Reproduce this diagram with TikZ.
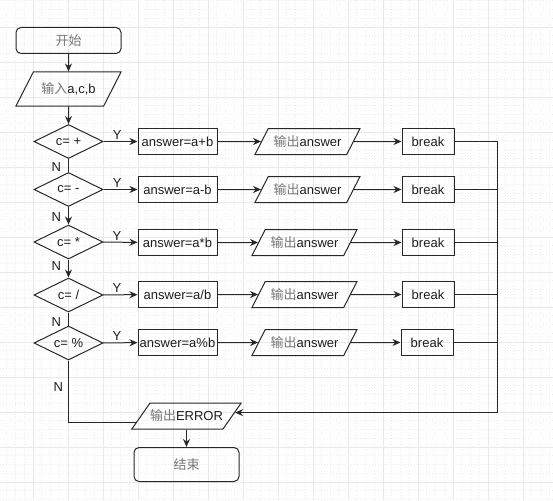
\documentclass[tikz,border=0pt]{standalone}
\usepackage{fontspec}
\setmainfont{Liberation Sans}
\newfontfamily\cjk{Noto Sans CJK SC}
\usetikzlibrary{shapes.geometric,arrows.meta}
\definecolor{cjkgray}{RGB}{118,118,118}
\definecolor{inkgray}{RGB}{30,30,30}
\definecolor{edgegray}{RGB}{40,40,40}
\definecolor{gridmajor}{RGB}{233,233,233}
\definecolor{gridminor}{RGB}{236,236,236}
\newcommand\zh[1]{{\cjk\color{cjkgray}#1}}
\begin{document}
\begin{tikzpicture}[x=1pt,y=-1pt,
    every node/.style={font=\fontsize{13}{15}\selectfont, text=inkgray, inner sep=0pt},
    box/.style={draw=edgegray, line width=1pt, minimum height=26pt},
    term/.style={box, rounded corners=5pt, minimum width=105pt},
    io/.style={draw=edgegray, line width=1pt, trapezium, trapezium left angle=63, trapezium right angle=117,
        trapezium stretches body, minimum width=105pt, text height=11.2pt, text depth=1.8pt, inner ysep=6.5pt},
    ask/.style={draw=edgegray, line width=1pt, diamond, aspect=2, minimum width=69pt, minimum height=34pt},
    link/.style={draw=edgegray, line width=1pt},
    flow/.style={link, -{Stealth[length=8pt,width=7pt]}},
    majorgrid/.style={draw=gridmajor, line width=0.8pt},
    minorgrid/.style={draw=gridminor, line width=0.6pt, dash pattern=on 1pt off 2pt}]
    \useasboundingbox (0,0) rectangle (553,500);
    \fill[white] (0,0) rectangle (553,500);
    \foreach \gx in {6.75,15.5,...,553} \draw[minorgrid] (\gx,0) -- (\gx,500);
    \foreach \gy in {0.75,9.5,...,500} \draw[minorgrid] (0,\gy) -- (553,\gy);
    \foreach \gx in {33,68,...,523} \draw[majorgrid] (\gx,0) -- (\gx,500);
    \foreach \gy in {27,62,...,482} \draw[majorgrid] (0,\gy) -- (553,\gy);

    \node[term] (start) at (68.5,40.5) {\zh{开始}};
    \node[io, inner ysep=10.5pt] (input) at (68.5,89) {\zh{输入}a,c,b};
    \node[ask] (c1) at (68.5,141.5) {c= +};
    \node[ask] (c2) at (68.5,189.5) {c= -};
    \node[ask] (c3) at (68.5,242) {c= *};
    \node[ask] (c4) at (68.5,295) {c= /};
    \node[ask] (c5) at (68.5,343) {c= \%};
    \node[box, minimum width=79pt] (a1) at (177.5,141.5) {answer=a+b};
    \node[box, minimum width=79pt] (a2) at (177.5,189.5) {answer=a-b};
    \node[box, minimum width=79pt] (a3) at (177.5,242.5) {answer=a*b};
    \node[box, minimum width=79pt] (a4) at (177.5,294.5) {answer=a/b};
    \node[box, minimum width=79pt] (a5) at (177.5,342.5) {answer=a\%b};
    \node[io] (o1) at (307.5,141.5) {\zh{输出}answer};
    \node[io] (o2) at (307.5,189.5) {\zh{输出}answer};
    \node[io] (o3) at (304.5,242.5) {\zh{输出}answer};
    \node[io] (o4) at (304.5,294.5) {\zh{输出}answer};
    \node[io] (o5) at (304.5,342.5) {\zh{输出}answer};
    \node[box, minimum width=52pt] (b1) at (428,141.5) {break};
    \node[box, minimum width=52pt] (b2) at (428,189.5) {break};
    \node[box, minimum width=52pt] (b3) at (428,242.5) {break};
    \node[box, minimum width=52pt] (b4) at (428,294.5) {break};
    \node[box, minimum width=52pt] (b5) at (427,342.5) {break};
    \node[io, trapezium left angle=55, trapezium right angle=125, minimum width=97pt] (err) at (186.5,416) {\zh{输出}ERROR};
    \node[term, minimum height=34pt] (stop) at (186.5,464.5) {\zh{结束}};
    \coordinate (back) at (497,0);
    \coordinate (nturn) at (68.5,0);

    \draw[flow] (start) -- (input);
    \draw[flow] (input) -- (c1);
    \draw[link] (c1) -- node[pos=0.6, left=7pt] {N} (c2);
    \draw[flow] (c2) -- node[pos=0.6, left=7pt] {N} (c3);
    \draw[flow] (c3) -- node[pos=0.35, left=7pt] {N} (c4);
    \draw[link] (c4) -- node[pos=0.7, left=7pt] {N} (c5);
    \draw[flow] (c1) -- node[pos=0.4, above=1.5pt] {Y} (a1);
    \draw[flow] (c2) -- node[pos=0.4, above=1.5pt] {Y} (a2);
    \draw[flow] (c3) -- node[pos=0.4, above=1.5pt] {Y} (a3);
    \draw[flow] (c4) -- node[pos=0.4, above=1.5pt] {Y} (a4);
    \draw[flow] (c5) -- node[pos=0.4, above=1.5pt] {Y} (a5);
    \draw[flow] (a1) -- (o1);
    \draw[flow] (a2) -- (o2);
    \draw[flow] (a3) -- (o3);
    \draw[flow] (a4) -- (o4);
    \draw[flow] (a5) -- (o5);
    \draw[flow] (o1) -- (b1);
    \draw[flow] (o2) -- (b2);
    \draw[flow] (o3) -- (b3);
    \draw[flow] (o4) -- (b4);
    \draw[flow] (o5) -- (b5);
    \draw[link] (b1.east) -- (b1.east -| back) -- (err.4 -| back);
    \draw[link] (b2.east) -- (b2.east -| back);
    \draw[link] (b3.east) -- (b3.east -| back);
    \draw[link] (b4.east) -- (b4.east -| back);
    \draw[link] (b5.east) -- (b5.east -| back);
    \draw[flow] (err.4 -| back) -- (err.4);
    \draw[link] (c5.south) -- node[pos=0.43, left=5pt] {N} (err.187 -| nturn) -- (err.187);
    \draw[flow] (err) -- (stop);
\end{tikzpicture}
\end{document}
